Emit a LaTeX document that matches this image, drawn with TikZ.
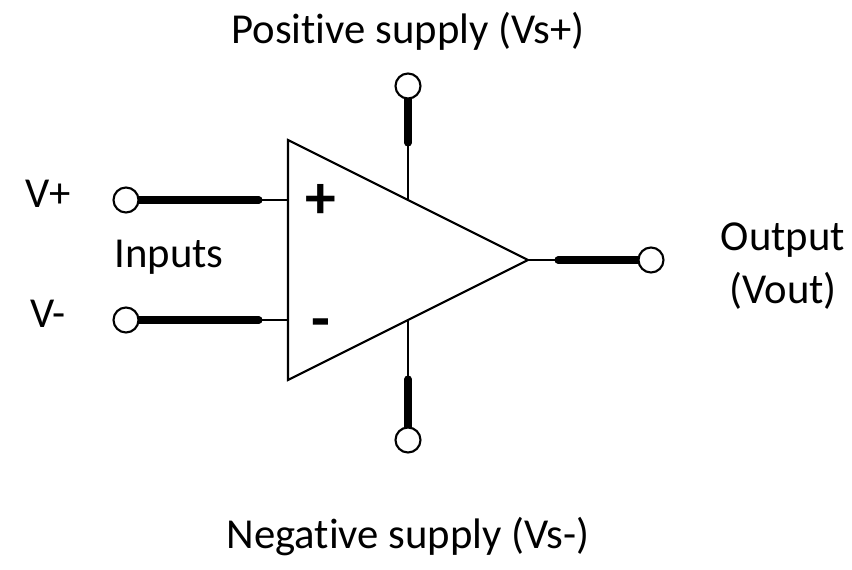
\documentclass[tikz,border=0pt]{standalone}
\usepackage{fontspec}
\setmainfont[Ligatures=NoCommon]{Carlito}
\usetikzlibrary{backgrounds}
\tikzset{
  term/.style={circle, draw, fill=white, line width=1.2pt, inner sep=0pt, minimum size=0.5cm},
  lead/.style={line width=1.2pt},
  heavy/.style={line width=4pt, line cap=round},
  lbl/.style={font=\fontsize{24.3}{29}\selectfont, align=center, inner sep=0pt},
  sgn/.style={font=\fontsize{35}{35}\selectfont\bfseries, inner sep=0pt}
}
\begin{document}
\begin{tikzpicture}[x=0.02cm,y=-0.02cm]
            \useasboundingbox (0,0) rectangle (852,570);

            % amplifier body
            \coordinate (A) at (288,140);
            \coordinate (B) at (288,380);
            \coordinate (C) at (528,260);
            \draw[lead, line join=miter] (A) -- (C) -- (B) -- cycle;

            % pins on the body
            \coordinate (P1) at (288,200);
            \coordinate (P2) at (288,320);
            \coordinate (P3) at (408,200);
            \coordinate (P4) at (408,320);

            % ends of the heavy parts
            \coordinate (H1) at (259,200);
            \coordinate (H2) at (259,320);
            \coordinate (H3) at (408,143);
            \coordinate (H4) at (408,379);
            \coordinate (H5) at (558,260);

            \node[term] (in1) at (126,200) {};
            \node[term] (in2) at (126,320) {};
            \node[term] (top) at (408,86) {};
            \node[term] (bot) at (408,440) {};
            \node[term] (out) at (651,260) {};

            \begin{scope}[on background layer]
            \foreach \a/\h/\p in {in1/H1/P1,in2/H2/P2,top/H3/P3,bot/H4/P4,out/H5/C}
            {
            \draw[heavy] (\a.center) -- (\h);
            \draw[lead] (\h) -- (\p);
            }
            \end{scope}

            \node[sgn] (plus) at (321,201) {+};
            \node[sgn] (minus) at (321,329) {-};

            \node[lbl] (vp) at (48,194) {V+};
            \node[lbl] (vm) at (48,314) {V-};
            \node[lbl] (inputs) at (169,257) {Inputs};
            \node[lbl] (pos) at (408,31) {Positive supply (Vs+)};
            \node[lbl] (neg) at (408,537) {Negative supply (Vs-)};
            \node[lbl] (vout) at (783,266) {Output\\[1pt](Vout)};
\end{tikzpicture}
\end{document}
